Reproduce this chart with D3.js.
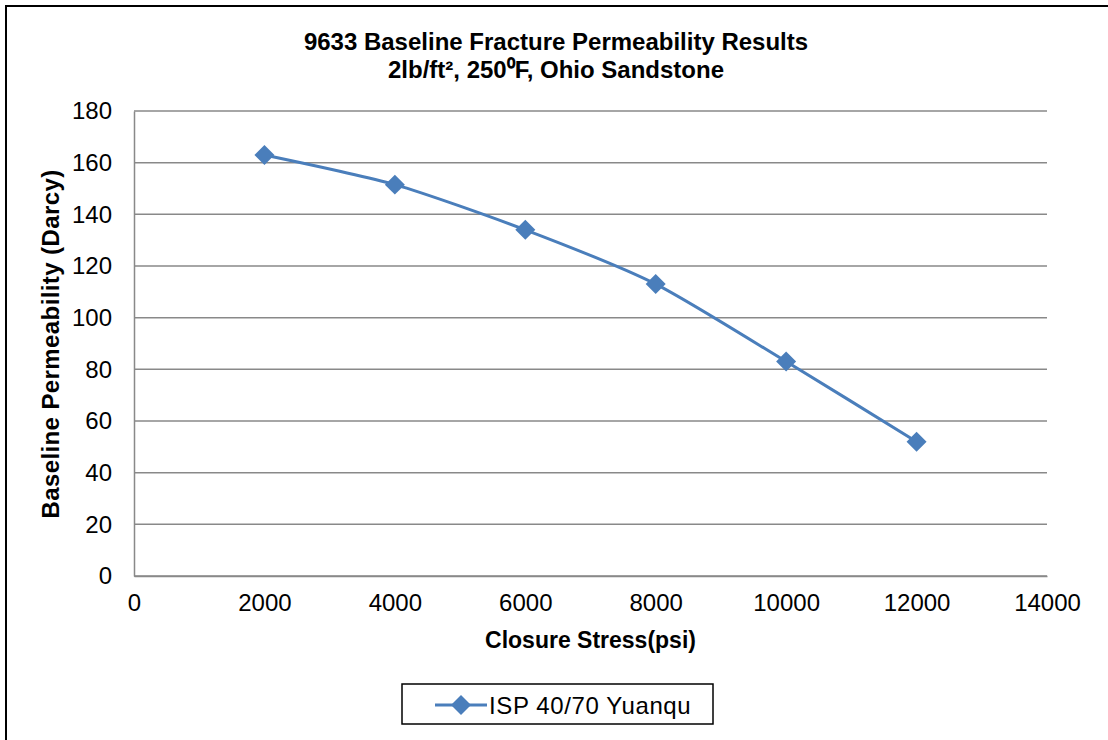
<!DOCTYPE html>
<html>
<head>
<meta charset="utf-8">
<script src="https://cdn.jsdelivr.net/npm/d3@7"></script>
<style>
  body { margin: 0; background: #fff; }
  text { font-family: "Liberation Sans", Arial, sans-serif; }
</style>
</head>
<body>
<svg id="chart" width="1108" height="740"></svg>
<script>
// data
let stress = [2000, 4000, 6000, 8000, 10000, 12000]
let permeability = [163, 151.5, 134, 113, 83, 52]
let xTicks = [0, 2000, 4000, 6000, 8000, 10000, 12000, 14000]
let yTicks = [0, 20, 40, 60, 80, 100, 120, 140, 160, 180]
let seriesName = "ISP 40/70 Yuanqu"
let titleLines = ["9633 Baseline Fracture Permeability Results", "2lb/ft\u00B2, 250\u2070F, Ohio Sandstone"]

// plot area
let plotLeft = 134, plotRight = 1047, plotTop = 111, plotBottom = 576
let blue = "#4a7ebb"

let svg = d3.select("#chart")

// outer frame (only top and left edges are visible in the picture)
svg.append("line").attr("x1", 5).attr("x2", 1108).attr("y1", 6).attr("y2", 6)
    .attr("stroke", "#000").attr("stroke-width", 2)
svg.append("line").attr("x1", 6).attr("x2", 6).attr("y1", 5).attr("y2", 740)
    .attr("stroke", "#000").attr("stroke-width", 2)

let xscale = d3.scaleLinear().domain([0, 14000]).range([plotLeft, plotRight])
let yscale = d3.scaleLinear().domain([0, 180]).range([plotBottom, plotTop])

// gridlines
svg.append("g")
    .selectAll("line")
    .data(yTicks)
    .enter()
    .append("line")
    .attr("x1", plotLeft).attr("x2", plotRight)
    .attr("y1", d => yscale(d)).attr("y2", d => yscale(d))
    .attr("stroke", "#898989").attr("stroke-width", 1.5)

// y axis
let yAxis = d3.axisLeft(yscale).tickValues(yTicks).tickSize(0).tickPadding(22)
let gy = svg.append("g").attr("transform", "translate(" + plotLeft + ",0)").call(yAxis)
gy.select(".domain").attr("stroke", "#898989").attr("stroke-width", 1.5)
gy.selectAll("text").style("font-size", "24px").attr("fill", "#000")

// x axis
let xAxis = d3.axisBottom(xscale).tickValues(xTicks).tickFormat(d3.format("d")).tickSize(0).tickPadding(18)
let gx = svg.append("g").attr("transform", "translate(0," + plotBottom + ")").call(xAxis)
gx.select(".domain").attr("stroke", "#898989").attr("stroke-width", 1.5)
gx.selectAll("text").style("font-size", "24px").attr("fill", "#000")

// titles
svg.append("text")
    .attr("text-anchor", "middle")
    .style("font-size", "24px").style("font-weight", "bold")
    .selectAll("tspan")
    .data(titleLines)
    .enter()
    .append("tspan")
    .attr("x", 556)
    .attr("y", (d, i) => 50 + i * 28)
    .text(d => d)

svg.append("text")
    .attr("x", (plotLeft + plotRight) / 2).attr("y", 648)
    .attr("text-anchor", "middle")
    .style("font-size", "23px").style("font-weight", "bold")
    .text("Closure Stress(psi)")

svg.append("text")
    .attr("transform", "translate(59,344) rotate(-90)")
    .attr("text-anchor", "middle")
    .style("font-size", "24px").style("font-weight", "bold")
    .style("letter-spacing", "0.4px")
    .text("Baseline Permeability (Darcy)")

// the series
let points = stress.map((s, i) => [s, permeability[i]])
let lineFunction = d3.line()
    .x(d => xscale(d[0]))
    .y(d => yscale(d[1]))
    .curve(d3.curveCardinal.tension(0.3))

svg.append("path")
    .datum(points)
    .attr("d", lineFunction)
    .attr("fill", "none")
    .attr("stroke", blue)
    .attr("stroke-width", 3)

let diamond = d3.symbol().type(d3.symbolSquare).size(200)
svg.append("g")
    .selectAll("path")
    .data(points)
    .enter()
    .append("path")
    .attr("d", diamond)
    .attr("transform", d => "translate(" + xscale(d[0]) + "," + yscale(d[1]) + ") rotate(45)")
    .attr("fill", blue)

// legend
svg.append("rect").attr("x", 402).attr("y", 684).attr("width", 311).attr("height", 40)
    .attr("fill", "#fff").attr("stroke", "#000").attr("stroke-width", 1.5)
svg.append("line").attr("x1", 435).attr("x2", 487).attr("y1", 705).attr("y2", 705)
    .attr("stroke", blue).attr("stroke-width", 3)
svg.append("path").attr("d", diamond).attr("transform", "translate(461,705) rotate(45)")
    .attr("fill", blue)
svg.append("text").attr("x", 489).attr("y", 714)
    .style("font-size", "24px")
    .style("letter-spacing", "0.6px")
    .text(seriesName)
</script>
</body>
</html>
